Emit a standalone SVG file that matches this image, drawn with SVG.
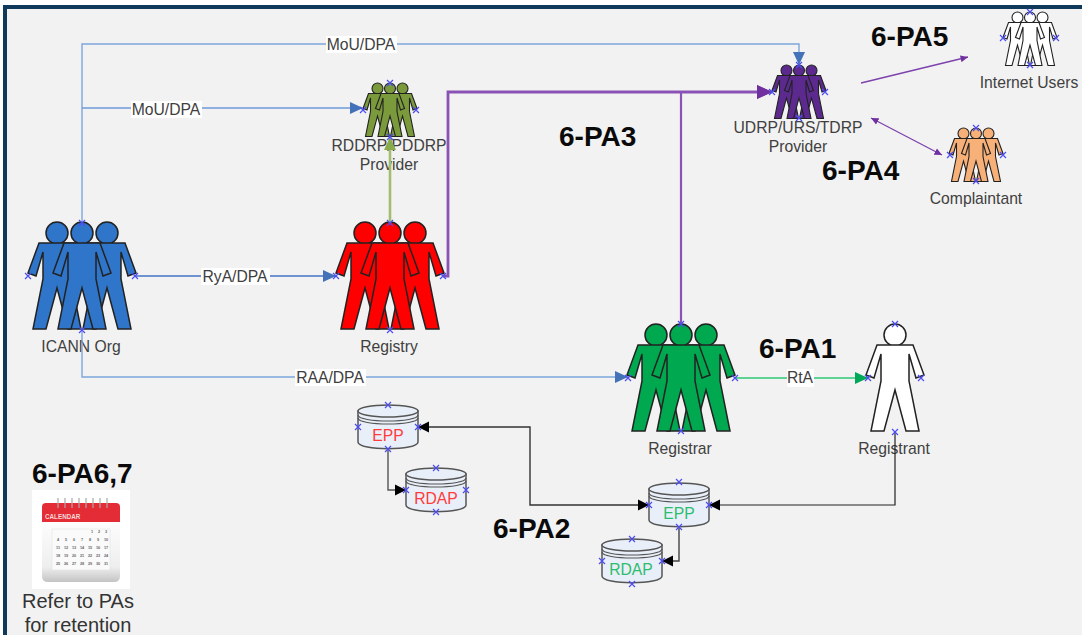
<svg xmlns="http://www.w3.org/2000/svg" xmlns:xlink="http://www.w3.org/1999/xlink" width="1082" height="635" viewBox="0 0 1082 635">
<style>
text{font-family:"Liberation Sans",Arial,sans-serif}
.l{font-size:15.7px;fill:#404040;text-anchor:middle}
.b{font-size:28px;font-weight:bold;fill:#0a0a0a}
.e{font-size:15.7px;fill:#333;text-anchor:middle}
.r{font-size:20px;fill:#333;text-anchor:middle}
.pp{stroke:#222;stroke-width:1.5;stroke-linejoin:miter}
.sm{stroke-width:1.1}
#p *{vector-effect:non-scaling-stroke}
.c{fill:none}
.cy{fill:#e9eff8;stroke:#555;stroke-width:1.5}
.cn{fill:none;stroke:#555;stroke-width:1.2}
.lb{fill:#fff}
.k{font-size:3.8px;fill:#666;text-anchor:middle;font-weight:bold}
</style>
<defs>
<g id="p">
<circle cx="0" cy="11" r="11"/>
<path d="M-18,21L18,21L29,51L21,54L14,30L14,57L24,107L11,107L0,66L-11,107L-24,107L-14,57L-14,30L-21,54L-29,51Z"/>
</g>
<g id="trio">
<use href="#p" x="-25" y="0"/>
<use href="#p" x="25" y="0"/>
<use href="#p" x="0" y="0"/>
</g>
<g id="cyl">
<path class="cy" d="M-30,-16V15C-30,24 30,24 30,15V-16Z"/>
<ellipse class="cy" cx="0" cy="-16" rx="30" ry="6"/>
<path class="cn" d="M-30,-12C-30,-4 30,-4 30,-12M-30,-9C-30,-1 30,-1 30,-9"/>
</g>
<path id="x" d="M-3,-3L3,3M-3,3L3,-3" stroke="#4c4cf5" stroke-width="1.2" fill="none"/>
<marker id="ab" markerUnits="userSpaceOnUse" markerWidth="14" markerHeight="14" viewBox="0 0 14 14" refX="13" refY="7" orient="auto"><path d="M0,1L13,7L0,13Z" fill="#4472b8"/></marker>
<marker id="ag" markerUnits="userSpaceOnUse" markerWidth="14" markerHeight="14" viewBox="0 0 14 14" refX="13" refY="7" orient="auto"><path d="M0,1L13,7L0,13Z" fill="#00a859"/></marker>
<marker id="ao" markerUnits="userSpaceOnUse" markerWidth="14" markerHeight="14" viewBox="0 0 14 14" refX="13" refY="7" orient="auto"><path d="M0,1L13,7L0,13Z" fill="#8aab4c"/></marker>
<marker id="ap" markerUnits="userSpaceOnUse" markerWidth="16" markerHeight="16" viewBox="0 0 16 16" refX="15" refY="8" orient="auto"><path d="M0,1L15,8L0,15Z" fill="#7030a0"/></marker>
<marker id="as" markerUnits="userSpaceOnUse" markerWidth="8" markerHeight="8" viewBox="0 0 8 8" refX="7.5" refY="4" orient="auto"><path d="M0,0.5L7.5,4L0,7.5Z" fill="#7030a0"/></marker>
<marker id="ass" markerUnits="userSpaceOnUse" markerWidth="8" markerHeight="8" viewBox="0 0 8 8" refX="0.5" refY="4" orient="auto"><path d="M8,0.5L0.5,4L8,7.5Z" fill="#7030a0"/></marker>
<marker id="ak" markerUnits="userSpaceOnUse" markerWidth="12" markerHeight="12" viewBox="0 0 12 12" refX="11" refY="6" orient="auto"><path d="M0,0.5L11,6L0,11.5Z" fill="#000"/></marker>
<marker id="aks" markerUnits="userSpaceOnUse" markerWidth="12" markerHeight="12" viewBox="0 0 12 12" refX="1" refY="6" orient="auto"><path d="M12,0.5L1,6L12,11.5Z" fill="#000"/></marker>
<linearGradient id="calbody" x1="0" y1="0" x2="0" y2="1"><stop offset="0" stop-color="#fdfdfd"/><stop offset="0.75" stop-color="#eeeeee"/><stop offset="1" stop-color="#c4c4c4"/></linearGradient>
</defs>

<rect width="1082" height="635" fill="#fff"/>
<rect x="5" y="7" width="1077" height="628" fill="#f2f2f2"/>
<rect x="3" y="5" width="1079" height="4" fill="#0f3a5c"/>
<rect x="3" y="5" width="4" height="630" fill="#0f3a5c"/>

<g id="icann" class="pp" fill="#2f75c9"><use href="#trio" transform="translate(82,222)"/><text class="l" x="81" y="352" stroke="none">ICANN Org</text></g>
<g id="rddrp" class="pp sm" fill="#7a9a3c"><use href="#trio" transform="translate(390,83) scale(.5)"/><text class="l" stroke="none" x="389" y="151">RDDRP/PDDRP</text><text class="l" stroke="none" x="389" y="170">Provider</text></g>
<g id="registry" class="pp" fill="#ff0000"><use href="#trio" transform="translate(390,222)"/><text class="l" stroke="none" x="389" y="352">Registry</text></g>
<g id="udrp" class="pp sm" fill="#5c2a8f"><use href="#trio" transform="translate(799,65) scale(.5)"/><text class="l" stroke="none" x="798" y="133">UDRP/URS/TDRP</text><text class="l" stroke="none" x="798" y="152">Provider</text></g>
<g id="internet-users" class="pp sm" fill="#ffffff"><use href="#trio" transform="translate(1030,12) scale(.5)"/><text class="l" stroke="none" x="1029" y="88">Internet Users</text></g>
<g id="complaintant" class="pp sm" fill="#f6b078"><use href="#trio" transform="translate(976,128) scale(.5)"/><text class="l" stroke="none" x="976" y="204">Complaintant</text></g>
<g id="registrar" class="pp" fill="#00a84f"><use href="#trio" transform="translate(681,324)"/><text class="l" stroke="none" x="680" y="454">Registrar</text></g>
<g id="registrant" class="pp" fill="#ffffff"><use href="#p" transform="translate(895,324)"/><text class="l" stroke="none" x="894" y="454">Registrant</text></g>

<g id="epp-red"><use href="#cyl" transform="translate(388,427)"/><text class="e" x="388" y="441" style="fill:#ff3b3b">EPP</text></g>
<g id="rdap-red"><use href="#cyl" transform="translate(436,490)"/><text class="e" x="436" y="504" style="fill:#ff3b3b">RDAP</text></g>
<g id="epp-green"><use href="#cyl" transform="translate(679,505)"/><text class="e" x="679" y="519" style="fill:#2dbd6e">EPP</text></g>
<g id="rdap-green"><use href="#cyl" transform="translate(632,561)"/><text class="e" x="631" y="575" style="fill:#2dbd6e">RDAP</text></g>

<g id="calendar">
<rect x="32" y="490" width="98" height="99" fill="#fff"/>
<path d="M42,522V507Q42,503 46,503H116Q120,503 120,507V522Z" fill="#e32c35"/>
<path d="M42,522H120V576Q120,582 114,582H48Q42,582 42,576Z" fill="url(#calbody)"/>
<path d="M58,498V508M65,498V508M72,498V508M79,498V508M86,498V508M93,498V508M100,498V508M107,498V508" stroke="#aaa" stroke-width="1.2"/>
<rect x="52" y="529" width="58" height="41" fill="#fafafa" stroke="#ddd" stroke-width=".5"/>
<text x="45" y="519" style="font-size:6.3px;font-weight:bold;fill:#f7d7d7">CALENDAR</text>
<text class="k" x="92" y="533">1</text><text class="k" x="99" y="533">2</text><text class="k" x="106" y="533">3</text>
<text class="k" x="58" y="541">4</text><text class="k" x="66" y="541">5</text><text class="k" x="74" y="541">6</text><text class="k" x="82" y="541">7</text><text class="k" x="90" y="541">8</text><text class="k" x="98" y="541">9</text><text class="k" x="106" y="541">10</text>
<text class="k" x="58" y="549">11</text><text class="k" x="66" y="549">12</text><text class="k" x="74" y="549">13</text><text class="k" x="82" y="549">14</text><text class="k" x="90" y="549">15</text><text class="k" x="98" y="549">16</text><text class="k" x="106" y="549">17</text>
<text class="k" x="58" y="557">18</text><text class="k" x="66" y="557">19</text><text class="k" x="74" y="557">20</text><text class="k" x="82" y="557">21</text><text class="k" x="90" y="557">22</text><text class="k" x="98" y="557">23</text><text class="k" x="106" y="557">24</text>
<text class="k" x="58" y="565">25</text><text class="k" x="66" y="565">26</text><text class="k" x="74" y="565">27</text><text class="k" x="82" y="565">28</text><text class="k" x="90" y="565">29</text><text class="k" x="98" y="565">30</text><text class="k" x="106" y="565">31</text>
</g>

<g id="connectors" class="c">
<path d="M82,223V44H799V65" stroke="#7ea6dc" stroke-width="1.4" marker-end="url(#ab)"/>
<path d="M82,108H363" stroke="#6f9bd8" stroke-width="1.4" marker-end="url(#ab)"/>
<path d="M135,276H336" stroke="#4472c4" stroke-width="1.4" marker-end="url(#ab)"/>
<path d="M82,330V377H628" stroke="#7ea6dc" stroke-width="1.4" marker-end="url(#ab)"/>
<path d="M390,223V137" stroke="#a3bd6e" stroke-width="2.6" marker-end="url(#ao)"/>
<path d="M443,276H448V92H772" stroke="#8a52b5" stroke-width="2.8" marker-end="url(#ap)"/>
<path d="M681,324V92H772" stroke="#8a52b5" stroke-width="2.2" marker-end="url(#ap)"/>
<path d="M861,83L968,57" stroke="#7c42ad" stroke-width="1.3" marker-end="url(#as)"/>
<path d="M871,118L942,155" stroke="#7c42ad" stroke-width="1.3" marker-start="url(#ass)" marker-end="url(#as)"/>
<path d="M735,378H868" stroke="#2ec973" stroke-width="1.4" marker-end="url(#ag)"/>
<path d="M418,427H530V505H649" stroke="#333" stroke-width="1.4" marker-start="url(#aks)" marker-end="url(#ak)"/>
<path d="M895,432V505H709" stroke="#222" stroke-width="1.2" marker-end="url(#ak)"/>
<path d="M388,449V490H406" stroke="#555" stroke-width="1.4" marker-end="url(#ak)"/>
<path d="M679,527V561H662" stroke="#444" stroke-width="1.4" marker-end="url(#ak)"/>
<rect class="lb" x="326" y="36" width="71" height="17"/><text class="l" x="361" y="50">MoU/DPA</text>
<rect class="lb" x="131" y="101" width="71" height="17"/><text class="l" x="166" y="115">MoU/DPA</text>
<rect class="lb" x="201" y="268" width="69" height="17"/><text class="l" x="235" y="282">RyA/DPA</text>
<rect class="lb" x="295" y="369" width="71" height="17"/><text class="l" x="330" y="383">RAA/DPA</text>
<rect class="lb" x="787" y="369" width="27" height="18"/><text class="l" x="800" y="383">RtA</text>
</g>

<g id="callouts">
<text class="b" x="871" y="46">6-PA5</text>
<text class="b" x="822" y="180">6-PA4</text>
<text class="b" x="559" y="146">6-PA3</text>
<text class="b" x="759" y="358">6-PA1</text>
<text class="b" x="493" y="538">6-PA2</text>
<text class="b" x="32" y="483">6-PA6,7</text>
<text class="r" x="78" y="608">Refer to PAs</text>
<text class="r" x="78" y="632">for retention</text>
</g>

<g id="handles">
<use href="#x" x="28" y="276"/><use href="#x" x="135" y="276"/><use href="#x" x="82" y="223"/><use href="#x" x="82" y="330"/>
<use href="#x" x="336" y="276"/><use href="#x" x="443" y="276"/><use href="#x" x="390" y="223"/><use href="#x" x="390" y="330"/>
<use href="#x" x="628" y="378"/><use href="#x" x="735" y="378"/><use href="#x" x="681" y="324"/><use href="#x" x="681" y="431"/>
<use href="#x" x="868" y="378"/><use href="#x" x="921" y="378"/><use href="#x" x="895" y="324"/><use href="#x" x="895" y="432"/>
<use href="#x" x="363" y="110"/><use href="#x" x="416" y="110"/><use href="#x" x="390" y="83"/><use href="#x" x="390" y="137"/>
<use href="#x" x="772" y="92"/><use href="#x" x="825" y="92"/><use href="#x" x="799" y="65"/><use href="#x" x="799" y="118"/>
<use href="#x" x="1003" y="38"/><use href="#x" x="1056" y="38"/><use href="#x" x="1030" y="12"/><use href="#x" x="1030" y="65"/>
<use href="#x" x="950" y="155"/><use href="#x" x="1003" y="155"/><use href="#x" x="976" y="128"/><use href="#x" x="976" y="181"/>
<use href="#x" x="358" y="427"/><use href="#x" x="418" y="427"/><use href="#x" x="388" y="405"/><use href="#x" x="388" y="449"/>
<use href="#x" x="406" y="490"/><use href="#x" x="466" y="490"/><use href="#x" x="436" y="468"/><use href="#x" x="436" y="512"/>
<use href="#x" x="649" y="505"/><use href="#x" x="709" y="505"/><use href="#x" x="679" y="482"/><use href="#x" x="679" y="527"/>
<use href="#x" x="602" y="561"/><use href="#x" x="662" y="561"/><use href="#x" x="632" y="539"/><use href="#x" x="632" y="584"/>
</g>
</svg>
